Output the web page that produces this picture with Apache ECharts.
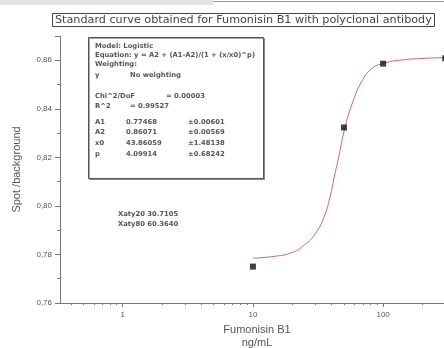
<!DOCTYPE html>
<html>
<head>
<meta charset="utf-8">
<script src="https://cdn.jsdelivr.net/npm/echarts@6/dist/echarts.min.js"></script>
<style>
  html, body { margin: 0; padding: 0; background: #fff; }
  #chart { width: 444px; height: 348px; }
</style>
</head>
<body>
<div id="chart"></div>
<script>
// measured points (ng/mL vs spot/background)
var pointConc = [10, 50, 100, 300];
var pointRatio = [0.775, 0.8323, 0.8586, 0.8608];

// fitted curve
var curveConc = [10, 14, 20, 25, 30, 35, 39, 42.6, 45, 51, 59, 68, 81.5, 102, 134, 191, 300, 350];
var curveRatio = [0.7785, 0.7791, 0.7808, 0.784, 0.7884, 0.7952, 0.8035, 0.8132, 0.8187, 0.8324, 0.8434, 0.851, 0.8565, 0.8588, 0.86, 0.8607, 0.8611, 0.8612];

// axis ticks
var xMajorTicks = [1, 10, 100];
var xMinorTicks = [0.4, 0.5, 0.6, 0.7, 0.8, 0.9, 2, 3, 4, 5, 6, 7, 8, 9, 20, 30, 40, 50, 60, 70, 80, 90, 200, 300];

// fit report text
var fitLines = [
    ['Model: Logistic'],
    ['Equation: y = A2 + (A1-A2)/(1 + (x/x0)^p)'],
    ['Weighting:'],
    ['y', 'No weighting'],
    ['Chi^2/DoF', '= 0.00003'],
    ['R^2', '= 0.99527'],
    ['A1', '0.77468', '±0.00601'],
    ['A2', '0.86071', '±0.00569'],
    ['x0', '43.86059', '±1.48138'],
    ['p', '4.09914', '±0.68242']
];
var fitRowsY = [46, 55, 64, 75, 96, 106, 122, 132, 143, 154];
var xatyLines = ['Xaty20 30.7105', 'Xaty80 60.3640'];

var font = 'Liberation Sans, Arial, sans-serif';
var smallFont = 'bold 6.8px DejaVu Sans, sans-serif';
var chart = echarts.init(document.getElementById('chart'));

var graphics = [
    { type: 'rect', shape: { x: 0, y: 0, width: 213, height: 5 }, style: { fill: '#e4e4e4' } },
    { type: 'line', shape: { x1: 213, y1: 1.5, x2: 444, y2: 1.5 }, style: { stroke: '#999', lineWidth: 1 } },
    { type: 'rect', shape: { x: 88.5, y: 37.5, width: 175, height: 141 },
      style: { fill: '#fff', stroke: '#555', lineWidth: 1, shadowColor: 'rgba(0,0,0,0.35)', shadowOffsetX: 1, shadowOffsetY: 1 }, z: 10 }
];
var colX = [95, 126, 188];
fitLines.forEach(function (row, i) {
    row.forEach(function (txt, j) {
        var x = colX[j];
        if (row.length === 2) x = (i === 4) ? 166 : 130;
        if (j === 0) x = colX[0];
        graphics.push({
            type: 'text', z: 11,
            style: { x: x, y: fitRowsY[i], text: txt, fill: '#555', font: smallFont, verticalAlign: 'middle' }
        });
    });
});
xatyLines.forEach(function (txt, i) {
    graphics.push({
        type: 'text', z: 11,
        style: { x: 118, y: 214 + i * 10, text: txt, fill: '#555', font: smallFont, verticalAlign: 'middle' }
    });
});

var option = {
    animation: false,
    backgroundColor: '#fff',
    title: {
        text: 'Standard curve obtained for Fumonisin B1 with polyclonal antibody',
        left: 52, top: 13,
        padding: [1, 3],
        borderColor: '#444',
        borderWidth: 1,
        textStyle: { fontFamily: 'DejaVu Sans, sans-serif', fontSize: 11.2, fontWeight: 'normal', color: '#444', lineHeight: 12 }
    },
    grid: { left: 60, right: -10, top: 36, bottom: 45, outerBoundsMode: 'none', containLabel: false },
    xAxis: [
        {
            type: 'log',
            min: 0.3303, max: 350,
            name: 'Fumonisin B1\nng/mL',
            nameLocation: 'middle',
            nameGap: 20,
            nameTextStyle: { fontFamily: font, fontSize: 11, color: '#555', lineHeight: 13 },
            axisLine: { lineStyle: { color: '#777', width: 1 } },
            axisTick: { length: 4, customValues: xMajorTicks, lineStyle: { color: '#777' } },
            axisLabel: { customValues: xMajorTicks, fontFamily: font, fontSize: 8, color: '#555', margin: 8 },
            splitLine: { show: false }
        },
        {
            type: 'log',
            min: 0.3303, max: 350,
            position: 'bottom',
            axisLine: { show: false },
            axisTick: { length: 2, customValues: xMinorTicks, lineStyle: { color: '#777' } },
            axisLabel: { show: false },
            splitLine: { show: false }
        }
    ],
    yAxis: {
        type: 'value',
        min: 0.76, max: 0.87, interval: 0.02,
        name: 'Spot /background',
        nameLocation: 'middle',
        nameGap: 38,
        nameTextStyle: { fontFamily: font, fontSize: 11, color: '#555' },
        axisLine: { show: true, lineStyle: { color: '#777', width: 1 } },
        axisTick: { show: true, length: 5, lineStyle: { color: '#777' } },
        minorTick: { show: true, splitNumber: 2, length: 3, lineStyle: { color: '#777' } },
        axisLabel: {
            fontFamily: font, fontSize: 8, color: '#555', margin: 8, showMaxLabel: false,
            formatter: function (v) { return v.toFixed(2).replace('.', ','); }
        },
        splitLine: { show: false }
    },
    series: [
        {
            type: 'line',
            data: curveConc.map(function (c, i) { return [c, curveRatio[i]]; }),
            smooth: true,
            showSymbol: false,
            lineStyle: { color: '#d4646a', width: 1 },
            z: 2
        },
        {
            type: 'scatter',
            data: pointConc.map(function (c, i) { return [c, pointRatio[i]]; }),
            symbol: 'rect',
            symbolSize: 6,
            itemStyle: { color: '#111' },
            z: 3
        }
    ],
    graphic: graphics
};
chart.setOption(option);
</script>
</body>
</html>
